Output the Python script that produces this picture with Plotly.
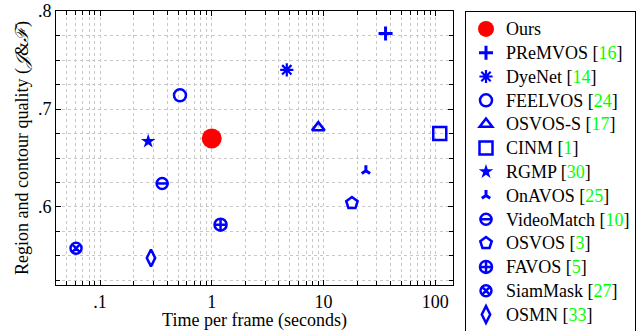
import plotly.graph_objects as go

methods = ['Ours', 'PReMVOS', 'DyeNet', 'FEELVOS', 'OSVOS-S', 'CINM', 'RGMP',
           'OnAVOS', 'VideoMatch', 'OSVOS', 'FAVOS', 'SiamMask', 'OSMN']
refs = [None, '16', '14', '24', '17', '1', '30', '25', '10', '3', '5', '27', '33']
time_s = [1.0, 36.0, 4.7, 0.52, 9.0, 110, 0.27, 24, 0.36, 18, 1.2, 0.061, 0.286]
quality = [0.670, 0.777, 0.740, 0.714, 0.681, 0.675, 0.667, 0.637, 0.624, 0.604, 0.582, 0.558, 0.548]

x_ticks = [0.1, 1, 10, 100]
x_ticktext = ['.1', '1', '10', '100']
y_ticks = [0.6, 0.7, 0.8]
y_ticktext = ['.6', '.7', '.8']

symbols = ['circle', 'cross-thin-open', 'asterisk-open', 'circle-open', 'triangle-up-open',
           'square-open', 'star', 'y-up-open', 'circle-open', 'pentagon-open',
           'circle-cross-open', 'circle-x-open', 'diamond-tall-open']
sizes = [20, 10, 11, 12, 11, 13, 11, 7, 11, 12, 12, 11, 12]
line_widths = [0, 3, 2.2, 2.5, 2.5, 2.5, 0, 3, 2.5, 2.5, 2.5, 2.5, 2.5]

BLUE = 'rgb(0,0,255)'
RED = 'rgb(255,0,0)'
GREEN = 'rgb(0,255,0)'
FONT = 'Liberation Serif'

W, H = 637, 331
ML, MR, MT, MB = 56, 184, 11, 46
LEG_ROW = 16 * 1.3 + 3  # plotly legend row height for 16px font

fig = go.Figure()
vm_index = methods.index('VideoMatch')
for i, m in enumerate(methods):
    label = m if refs[i] is None else f'{m} [<span style="color:{GREEN}">{refs[i]}</span>]'
    name = f'<span style="font-size:18px">{label}</span>'
    sym = symbols[i]
    if sym in ('circle', 'star'):
        marker = dict(symbol=sym, size=sizes[i], color=RED if i == 0 else BLUE,
                      line=dict(width=0))
    else:
        marker = dict(symbol=sym, size=sizes[i], color=BLUE,
                      line=dict(width=line_widths[i], color=BLUE))
    fig.add_trace(go.Scatter(x=[time_s[i]], y=[quality[i]], mode='markers',
                             name=name, marker=marker, legend='legend'))

# horizontal bar inside the VideoMatch circle (plot + legend icon)
fig.add_trace(go.Scatter(x=[time_s[vm_index]], y=[quality[vm_index]], mode='markers',
                         name=' ', hoverinfo='skip', legend='legend2',
                         marker=dict(symbol='line-ew-open', size=9, color=BLUE,
                                     line=dict(width=2.5, color=BLUE))))

axis_common = dict(showline=True, linecolor='black', linewidth=1, mirror='ticks',
                   ticks='inside', tickcolor='black', ticklen=5, tickwidth=1,
                   showgrid=True, gridcolor='rgb(200,200,200)', griddash='dot', gridwidth=1,
                   zeroline=False, tickfont=dict(family=FONT, size=18, color='black'))

fig.update_xaxes(type='log', range=[-1.394, 2.16], tickvals=x_ticks, ticktext=x_ticktext,
                 minor=dict(dtick='D1', ticks='inside', ticklen=4, tickcolor='black',
                            showgrid=True, gridcolor='rgb(200,200,200)', griddash='dot'),
                 title=dict(text='Time per frame (seconds)', standoff=2,
                            font=dict(family=FONT, size=18, color='black')),
                 **axis_common)
fig.update_yaxes(range=[0.5204, 0.8], tickvals=y_ticks, ticktext=y_ticktext,
                 minor=dict(tick0=0, dtick=0.025, ticks='inside', ticklen=4, tickcolor='black',
                            showgrid=True, gridcolor='rgb(200,200,200)', griddash='dot'),
                 title=dict(text='Region and contour quality (<i>𝒥</i>&amp;<i>ℱ</i>)', standoff=4,
                            font=dict(family=FONT, size=18, color='black')),
                 **axis_common)

plot_w = W - ML - MR
plot_h = H - MT - MB
leg_x = (465 - ML) / plot_w
leg_y = (H - MB - 11) / plot_h
leg2_y = leg_y - vm_index * LEG_ROW / plot_h

fig.update_layout(
    width=W, height=H,
    margin=dict(l=ML, r=MR, t=MT, b=MB, autoexpand=False),
    plot_bgcolor='white', paper_bgcolor='white',
    legend=dict(x=leg_x, y=leg_y, xanchor='left', yanchor='top',
                bordercolor='black', borderwidth=1, bgcolor='white',
                font=dict(family=FONT, size=16, color='black'),
                itemsizing='trace', tracegroupgap=0, maxheight=330,
                entrywidth=160, entrywidthmode='pixels'),
    legend2=dict(x=leg_x, y=leg2_y, xanchor='left', yanchor='top',
                 bordercolor='rgba(0,0,0,0)', borderwidth=1, bgcolor='rgba(0,0,0,0)',
                 font=dict(family=FONT, size=16, color='black'),
                 itemsizing='trace'),
)

fig.write_html('out.html', config={'displayModeBar': False},
               post_script="document.body.style.margin='0';document.body.style.overflow='hidden';")
